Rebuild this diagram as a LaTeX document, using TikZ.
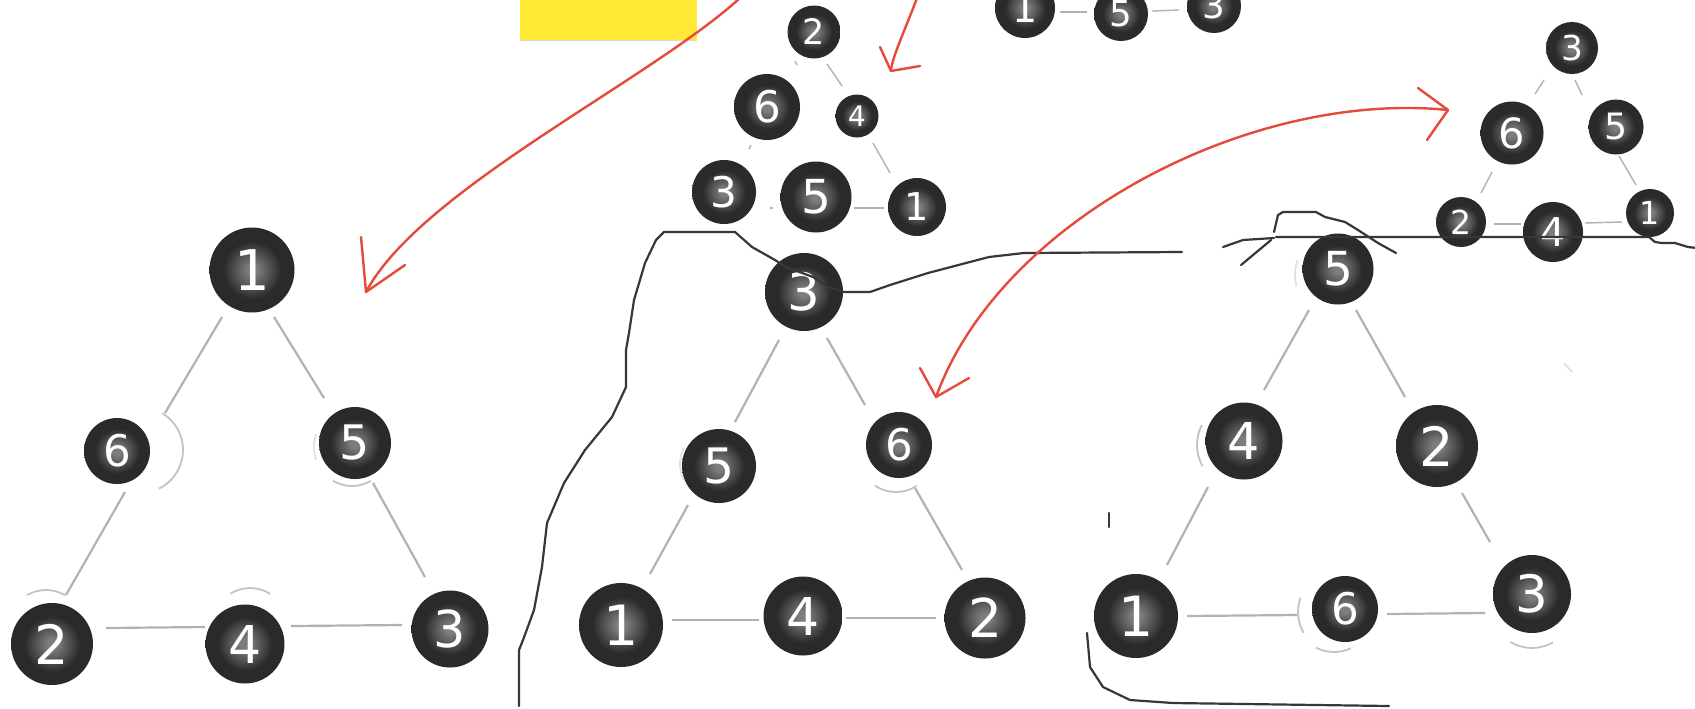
\documentclass[tikz,border=0pt]{standalone}
\usepackage{fontspec}
\usetikzlibrary{calc}
\newfontfamily\ballfont{DejaVu Sans}
\definecolor{ballin}{RGB}{125,125,125}
\definecolor{ballout}{RGB}{42,42,42}
\definecolor{edgegray}{RGB}{178,178,178}
\definecolor{arcgray}{RGB}{195,195,195}
\definecolor{arcfaint}{RGB}{225,225,225}
\definecolor{ink}{RGB}{55,55,55}
\definecolor{redpen}{RGB}{229,74,58}
\definecolor{postit}{RGB}{255,233,52}
\pgfdeclareradialshading{ballshade}{\pgfpoint{0bp}{0bp}}{color(0bp)=(ballin); color(3bp)=(ballin); color(17bp)=(ballout); color(25bp)=(ballout); color(50bp)=(ballout)}
\tikzset{
  ballnode/.style={circle, inner sep=0pt, outer sep=0pt, shade, shading=ballshade, text=white},
  edgeline/.style={draw=edgegray, line width=1.1pt},
  smalledge/.style={draw=edgegray, line width=0.7pt},
  selarc/.style={draw=arcgray, line width=0.9pt},
  faintarc/.style={draw=arcfaint, line width=0.9pt},
  inkline/.style={draw=ink, line width=1.1pt, line join=round, line cap=round},
  redline/.style={draw=redpen, line width=1.2pt, line join=round, line cap=round},
}
\newcommand\ball[5]{\pgfmathsetmacro\balld{#4*0.5}\pgfmathsetmacro\ballf{#4*0.33}%
  \node[ballnode, minimum size=\balld pt, font=\ballfont\fontsize{\ballf pt}{\ballf pt}\selectfont] (#1) at (#2,#3) {#5};}
% edge between two nodes, ends given as offsets from the node centres
\newcommand\edg[5][edgeline]{\draw[#1] ($(#2)+(#3)$) -- ($(#4)+(#5)$);}
\begin{document}
\begin{tikzpicture}[x=0.5pt, y=-0.5pt]
\fill[white] (0,0) rectangle (1695,708);
\useasboundingbox (0,0) rectangle (1695,708);
% post-it
\fill[postit] (520,-2) rectangle (697,40);
\draw[draw=black!15, line width=0.8pt] (520,40.5) -- (697,40.5);

% nodes
\ball{L1}{252}{270}{85}{1}
\ball{L6}{117}{451}{66}{6}
\ball{L5}{355}{443}{72}{5}
\ball{L2}{52}{644}{82}{2}
\ball{L4}{245}{644}{79}{4}
\ball{L3}{450}{629}{77}{3}

\ball{M3}{804}{292}{78}{3}
\ball{M5}{719}{466}{74}{5}
\ball{M6}{899}{445}{66}{6}
\ball{M1}{621}{625}{84}{1}
\ball{M4}{803}{616}{79}{4}
\ball{M2}{985}{618}{81}{2}

\ball{R5}{1338}{269}{71}{5}
\ball{R4}{1244}{441}{77}{4}
\ball{R2}{1437}{446}{82}{2}
\ball{R1}{1136}{616}{84}{1}
\ball{R6}{1345}{609}{66}{6}
\ball{R3}{1532}{594}{78}{3}

\ball{T2}{814}{32}{53}{2}
\ball{T6}{767}{107}{66}{6}
\ball{T4}{857}{116}{43}{4}
\ball{T3}{724}{192}{64}{3}
\ball{T5}{816}{197}{71}{5}
\ball{T1}{917}{207}{58}{1}

\ball{Q1}{1025}{8}{60}{1}
\ball{Q5}{1121}{14}{54}{5}
\ball{Q3}{1214}{6}{54}{3}

\ball{P3}{1572}{48}{52}{3}
\ball{P6}{1512}{133}{63}{6}
\ball{P5}{1616}{127}{55}{5}
\ball{P2}{1461}{222}{50}{2}
\ball{P4}{1553}{232}{60}{4}
\ball{P1}{1650}{213}{48}{1}

% edges
\edg{L1}{-30,47}{L6}{48,-38}
\edg{L1}{22,47}{L5}{-31,-45}
\edg{L6}{8,41}{L2}{14,-49}
\edg{L5}{18,40}{L3}{-25,-52}
\edg{L2}{54,-16}{L4}{-40,-17}
\edg{L4}{46,-18}{L3}{-48,-4}

\edg{M3}{-25,48}{M5}{16,-44}
\edg{M3}{23,46}{M6}{-34,-40}
\edg{M5}{-31,39}{M1}{29,-51}
\edg{M6}{16,43}{M2}{-23,-48}
\edg{M1}{51,-5}{M4}{-44,4}
\edg{M4}{43,2}{M2}{-49,0}

\edg{R5}{-29,41}{R4}{20,-51}
\edg{R5}{18,41}{R2}{-32,-49}
\edg{R4}{-36,46}{R1}{31,-51}
\edg{R2}{25,47}{R3}{-42,-52}
\edg{R1}{51,0}{R6}{-48,6}
\edg{R6}{42,5}{R3}{-47,19}

\edg[smalledge]{T2}{13,32}{T4}{-15,-30}
\edg[smalledge]{T4}{16,27}{T1}{-27,-34}
\edg[smalledge]{T5}{38,11}{T1}{-33,1}
\edg[smalledge]{T2}{-19,29}{T2}{-17,33}
\edg[smalledge]{T6}{-16,38}{T6}{-18,42}
\edg[smalledge]{T3}{46,16}{T3}{49,16}

\edg[smalledge]{Q1}{35,4}{Q5}{-34,-2}
\edg[smalledge]{Q5}{31,-3}{Q3}{-35,4}

\edg[smalledge]{P3}{-28,32}{P6}{23,-39}
\edg[smalledge]{P3}{3,32}{P5}{-34,-32}
\edg[smalledge]{P6}{-20,39}{P2}{20,-29}
\edg[smalledge]{P5}{3,29}{P1}{-14,-28}
\edg[smalledge]{P2}{33,2}{P4}{-32,-8}
\edg[smalledge]{P4}{32,-9}{P1}{-28,9}

% selection arcs
\draw[selarc] (140,450) ++(-59:43) arc[start angle=-59, end angle=64, radius=43];
\draw[selarc] (352,449) ++(59:37) arc[start angle=59, end angle=121, radius=37];
\draw[faintarc] (352,447) ++(160:38) arc[start angle=160, end angle=200, radius=38];
\draw[selarc] (46,628) ++(-120:38) arc[start angle=-120, end angle=-60, radius=38];
\draw[selarc] (250,625) ++(-122:37) arc[start angle=-122, end angle=-57, radius=37];
\draw[faintarc] (718,464) ++(155:38) arc[start angle=155, end angle=205, radius=38];
\draw[selarc] (896,454) ++(57:38) arc[start angle=57, end angle=124, radius=38];
\draw[selarc] (1241,445) ++(151:44) arc[start angle=151, end angle=207, radius=44];
\draw[selarc] (1340,612) ++(150:42) arc[start angle=150, end angle=200, radius=42];
\draw[selarc] (1334,612) ++(65:40) arc[start angle=65, end angle=117, radius=40];
\draw[selarc] (1532,606) ++(60:42) arc[start angle=60, end angle=121, radius=42];
\draw[faintarc] (1338,275) ++(165:43) arc[start angle=165, end angle=200, radius=43];
\draw[faintarc] (1564,363) -- (1572,372);

% hand-drawn black lines
\draw[inkline] (519,706) -- (519,650) -- (523,640) -- (534,610) -- (542,567) -- (547,523) -- (564,483) -- (585,450) -- (612,417) -- (626,387) -- (626,350) -- (629,333) -- (634,300) -- (645,263) -- (656,240) -- (664,232) -- (735,232) -- (752,247) -- (775,260) -- (786,267) -- (813,277) -- (828,287) -- (844,292) -- (870,292) -- (890,285) -- (928,273) -- (966,263) -- (989,257) -- (1024,253) -- (1182,252);
\draw[inkline] (1087,633) -- (1090,667) -- (1103,687) -- (1130,700) -- (1173,703) -- (1389,706);
\draw[inkline] (1109,513) -- (1109,527);
\draw[inkline] (1276,237) -- (1649,237) -- (1655,242) -- (1662,243) -- (1675,243) -- (1688,247) -- (1697,248);
\draw[inkline] (1274,232) -- (1278,215) -- (1283,212) -- (1316,212) -- (1325,217) -- (1345,222) -- (1358,230) -- (1378,243) -- (1396,253);
\draw[inkline] (1223,247) -- (1243,240) -- (1274,238);
\draw[inkline] (1241,265) -- (1271,240);

% red pen arrows
\draw[redline] (740,-2) .. controls (650,80) and (420,190) .. (366,292);
\draw[redline] (361,237) -- (366,292) -- (405,265);
\draw[redline] (917,-2) .. controls (905,30) and (893,55) .. (891,70);
\draw[redline] (880,47) -- (891,71) -- (920,66);
\draw[redline] (1448,110) .. controls (1250,90) and (1000,220) .. (936,397);
\draw[redline] (1418,88) -- (1448,110) -- (1427,140);
\draw[redline] (920,368) -- (936,397) -- (969,378);
\end{tikzpicture}
\end{document}
